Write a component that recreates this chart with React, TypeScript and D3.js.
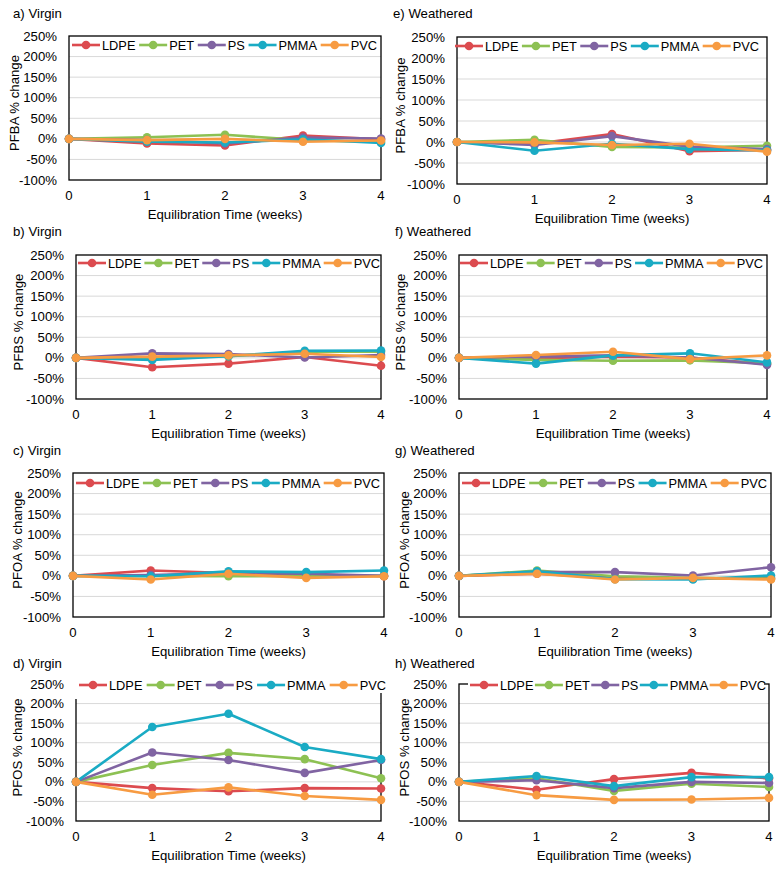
import React from "react";
import * as d3 from "d3";

const weeks = [0, 1, 2, 3, 4];
const materials = ["LDPE", "PET", "PS", "PMMA", "PVC"];
const yTicks = [250, 200, 150, 100, 50, 0, -50, -100];

// % change per material (LDPE, PET, PS, PMMA, PVC) over weeks 0..4
const pfbaVirgin = [
  [0, -11, -16, 8, -1],
  [0, 4, 10, -3, -7],
  [0, -3, -11, 3, 1],
  [0, -7, -9, -1, -10],
  [0, -3, 0, -7, -4],
];
const pfbsVirgin = [
  [0, -23, -14, 2, -19],
  [0, -1, 4, 15, 15],
  [0, 11, 9, 1, 7],
  [0, -5, 4, 17, 18],
  [0, 3, 6, 10, 2],
];
const pfoaVirgin = [
  [0, 13, 7, 3, -1],
  [0, 0, -1, 0, 0],
  [0, 2, 7, 5, 0],
  [0, -1, 11, 9, 13],
  [0, -9, 5, -5, -1],
];
const pfosVirgin = [
  [0, -16, -24, -16, -17],
  [0, 43, 74, 58, 9],
  [0, 75, 56, 23, 56],
  [0, 140, 174, 89, 58],
  [0, -33, -14, -36, -46],
];
const pfbaWeathered = [
  [0, -4, 19, -22, -19],
  [0, 5, -12, -13, -9],
  [0, -7, 14, -11, -17],
  [0, -21, -4, -17, -20],
  [0, -1, -7, -4, -23],
];
const pfbsWeathered = [
  [0, -1, 3, 1, -15],
  [0, -5, -7, -6, -13],
  [0, 3, 6, 1, -17],
  [0, -14, 6, 11, -11],
  [0, 7, 15, -3, 6],
];
const pfoaWeathered = [
  [0, 5, -5, -7, -5],
  [0, 13, -1, -5, -7],
  [0, 9, 9, 1, 21],
  [0, 11, -8, -9, 1],
  [0, 5, -9, -5, -9],
];
const pfosWeathered = [
  [0, -20, 7, 23, 9],
  [0, 9, -23, -5, -13],
  [0, 4, -16, 0, -3],
  [0, 15, -11, 12, 12],
  [0, -34, -46, -45, -41],
];

const colors = ["#DC4B4F", "#8DC153", "#8064A2", "#1AABC4", "#F79B42"];

type Panel = {
  title: string;
  ylabel: string;
  data: number[][];
  L: number; R: number; T: number; B: number;
  tx: number; ty: number; ylx: number;
  legDy: number; legBg: boolean; legL: number; legR: number;
};

const panels: Panel[] = [
  { title: "a) Virgin", ylabel: "PFBA % change", data: pfbaVirgin, L: 69, R: 381, T: 36, B: 180, tx: 13, ty: 18, ylx: 19, legDy: 9, legBg: false, legL: 72, legR: 377 },
  { title: "b) Virgin", ylabel: "PFBS % change", data: pfbsVirgin, L: 76, R: 381, T: 255, B: 399, tx: 13, ty: 236, ylx: 23, legDy: 8, legBg: false, legL: 78, legR: 380 },
  { title: "c) Virgin", ylabel: "PFOA % change", data: pfoaVirgin, L: 73, R: 384, T: 473, B: 617, tx: 13, ty: 455, ylx: 22, legDy: 10, legBg: false, legL: 76, legR: 380 },
  { title: "d) Virgin", ylabel: "PFOS % change", data: pfosVirgin, L: 76, R: 381, T: 684, B: 821, tx: 13, ty: 668, ylx: 22, legDy: 1, legBg: true, legL: 79, legR: 386 },
  { title: "e) Weathered", ylabel: "PFBA % change", data: pfbaWeathered, L: 457, R: 767, T: 37, B: 184, tx: 393, ty: 18, ylx: 405, legDy: 9, legBg: false, legL: 455, legR: 759 },
  { title: "f) Weathered", ylabel: "PFBS % change", data: pfbsWeathered, L: 459, R: 767, T: 255, B: 399, tx: 395, ty: 236, ylx: 405, legDy: 8, legBg: false, legL: 460, legR: 763 },
  { title: "g) Weathered", ylabel: "PFOA % change", data: pfoaWeathered, L: 459, R: 771, T: 473, B: 617, tx: 395, ty: 455, ylx: 409, legDy: 10, legBg: false, legL: 462, legR: 767 },
  { title: "h) Weathered", ylabel: "PFOS % change", data: pfosWeathered, L: 459, R: 769, T: 684, B: 821, tx: 395, ty: 668, ylx: 409, legDy: 1, legBg: true, legL: 470, legR: 766 },
];

const FONT = "Liberation Sans, Arial, sans-serif";
const charW: Record<string, number> = { L: 0.556, D: 0.722, P: 0.667, E: 0.667, T: 0.611, S: 0.667, M: 0.833, A: 0.667, V: 0.667, C: 0.722 };
const textW = (s: string, fs: number) => s.split("").reduce((a, c) => a + (charW[c] ?? 0.6), 0) * fs;

function PanelChart({ p }: { p: Panel }) {
  const x = d3.scaleLinear().domain([0, 4]).range([p.L, p.R]);
  const y = d3.scaleLinear().domain([-100, 250]).range([p.B, p.T]);
  const line = d3.line<number>().x((_, i) => x(weeks[i])).y((v) => y(v));
  const fs = 13.2;
  const lfs = 12.8;
  const lineLen = 28;
  const gapT = 2;
  const widths = materials.map((m) => lineLen + gapT + textW(m, lfs));
  const total = d3.sum(widths);
  const spacing = (p.legR - p.legL - total) / (materials.length - 1);
  let cx = p.legL;
  const legPos = widths.map((w) => {
    const s = cx;
    cx += w + spacing;
    return s;
  });
  const ly = p.T + p.legDy;
  const left = p.L < 100;
  return (
    <g>
      <text x={p.tx} y={p.ty} fontSize={fs} fontFamily={FONT} fill="#000">{p.title}</text>
      {yTicks.filter((t) => t !== 250 && t !== -100).map((t) => (
        <line key={t} x1={p.L} x2={p.R} y1={y(t)} y2={y(t)} stroke="#d9d9d9" strokeWidth={1} />
      ))}
      <rect x={p.L} y={p.T} width={p.R - p.L} height={p.B - p.T} fill="none" stroke="#000" strokeWidth={1.3} />
      {yTicks.map((t) => (
        <text key={t} x={p.L - 12} y={y(t) + 4.6} fontSize={fs} textAnchor="end" fontFamily={FONT} fill="#000">{`${t}%`}</text>
      ))}
      {weeks.map((w) => (
        <text key={w} x={x(w)} y={p.B + 20} fontSize={fs} textAnchor="middle" fontFamily={FONT} fill="#000">{w}</text>
      ))}
      <text x={(p.L + p.R) / 2} y={p.B + 39} fontSize={fs} textAnchor="middle" fontFamily={FONT} fill="#000">Equilibration Time (weeks)</text>
      <text transform={`translate(${p.ylx},${(p.T + p.B) / 2 - 5}) rotate(-90)`} fontSize={fs} textAnchor="middle" fontFamily={FONT} fill="#000">{p.ylabel}</text>
      {p.data.map((s, i) => (
        <g key={materials[i]}>
          <path d={line(s) ?? ""} fill="none" stroke={colors[i]} strokeWidth={2.6} strokeLinejoin="round" />
          {s.map((v, j) => (
            <circle key={j} cx={x(weeks[j])} cy={y(v)} r={4.3} fill={colors[i]} />
          ))}
        </g>
      ))}
      {p.legBg && left && (
        <g>
          <rect x={p.L - 2} y={ly - 13} width={p.R - p.L + 4} height={21} fill="#fff" />
          <rect x={p.L - 2} y={ly + 7} width={5} height={7} fill="#fff" />
        </g>
      )}
      {p.legBg && !left && (
        <rect x={p.legL - 2} y={ly - 11} width={p.legR - p.legL} height={22} fill="#fff" />
      )}
      {materials.map((m, i) => (
        <g key={m}>
          <line x1={legPos[i]} x2={legPos[i] + lineLen} y1={ly} y2={ly} stroke={colors[i]} strokeWidth={2.6} />
          <circle cx={legPos[i] + lineLen / 2} cy={ly} r={4.3} fill={colors[i]} />
          <text x={legPos[i] + lineLen + gapT} y={ly + 4.6} fontSize={lfs} fontFamily={FONT} fill="#000">{m}</text>
        </g>
      ))}
    </g>
  );
}

export default function App() {
  return (
    <svg width={783} height={869} style={{ position: "absolute", left: 0, top: 0, background: "#fff" }}>
      <rect x={0} y={0} width={783} height={869} fill="#fff" />
      {panels.map((p) => (
        <PanelChart key={p.title} p={p} />
      ))}
    </svg>
  );
}
